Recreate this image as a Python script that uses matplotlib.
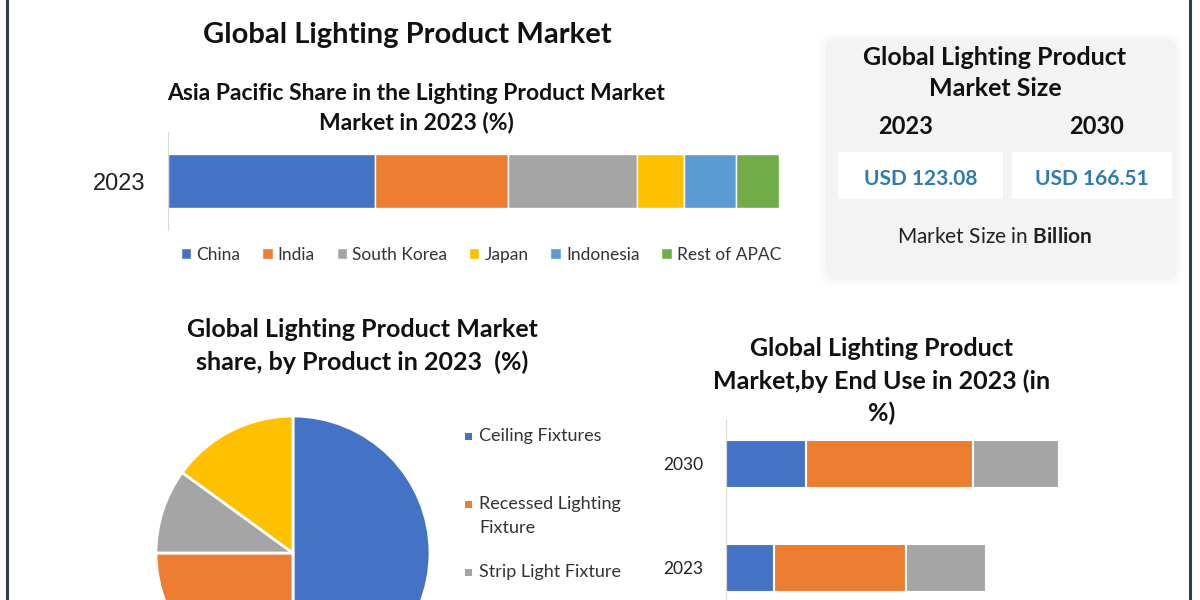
import matplotlib
matplotlib.use("Agg")
import matplotlib.pyplot as plt
import matplotlib.patches as mpatches

plt.rcParams["font.family"] = ["Lato", "DejaVu Sans"]
plt.rcParams["mathtext.fontset"] = "custom"
plt.rcParams["mathtext.rm"] = "Lato"
plt.rcParams["mathtext.bf"] = "Lato:bold"

# ---- data ----
apac_regions = ["China", "India", "South Korea", "Japan", "Indonesia", "Rest of APAC"]
apac_share = [33.9, 21.8, 21.1, 7.7, 8.5, 7.0]
apac_year = "2023"

products = ["Ceiling Fixtures", "Recessed Lighting\nFixture", "Strip Light Fixture", "Others"]
product_share = [50, 25, 10, 15]

end_use_years = ["2023", "2030"]
end_use_names = ["Residential", "Commercial", "Industrial"]
end_use_2023 = [14.5, 39.5, 24.0]
end_use_2030 = [24.0, 50.0, 26.0]

size_years = ["2023", "2030"]
size_values = ["USD 123.08", "USD 166.51"]

C = ["#4472C4", "#ED7D31", "#A5A5A5", "#FFC000", "#5B9BD5", "#70AD47"]
W, H = 1200, 600

def fx(x): return x / W
def fy(y): return 1 - y / H

fig = plt.figure(figsize=(12, 6), dpi=100)
fig.patch.set_facecolor("white")

# pixel-space overlay for decorations
bg = fig.add_axes([0, 0, 1, 1], zorder=-1)
bg.set_xlim(0, W); bg.set_ylim(H, 0); bg.axis("off")
bg.plot([7, 7], [0, H], color="#2d3e4e", lw=2.2)
bg.plot([1190, 1190], [0, H], color="#2d3e4e", lw=2.2)

# ---- main title ----
fig.text(fx(407), fy(35), "Global Lighting Product Market", ha="center", va="center",
         fontsize=21, fontweight="bold", color="#111111")

# ---- APAC stacked bar ----
fig.text(fx(416), fy(108), "Asia Pacific Share in the Lighting Product Market\nMarket in 2023 (%)",
         ha="center", va="center", fontsize=16.5, fontweight="bold", linespacing=1.4, color="#111111")
ax1 = fig.add_axes([fx(168), fy(230), fx(779) - fx(168), fy(132) - fy(230)])
left = 0
for name, val, col in zip(apac_regions, apac_share, C):
    ax1.barh(apac_year, val, left=left, color=col, edgecolor="white", lw=1, height=0.55, label=name)
    left += val
ax1.set_xlim(0, sum(apac_share))
ax1.set_ylim(-0.5, 0.5)
for s in ["top", "right", "bottom"]:
    ax1.spines[s].set_visible(False)
ax1.spines["left"].set_color("#d9d9d9")
ax1.set_xticks([])
ax1.tick_params(axis="y", length=0, pad=16)
for t in ax1.get_yticklabels():
    t.set_fontfamily("Liberation Sans"); t.set_fontsize(17); t.set_color("#222222")
leg1 = fig.legend(*ax1.get_legend_handles_labels(), loc="center", bbox_to_anchor=(fx(481), fy(255)),
                  ncol=6, frameon=False, fontsize=12.5, handlelength=0.6, handleheight=0.6,
                  handletextpad=0.3, columnspacing=1.25)
for t in leg1.get_texts():
    t.set_color("#333333")

# ---- market size box ----
for i, a in enumerate([0.05, 0.05, 0.06]):
    bg.add_patch(mpatches.FancyBboxPatch((825 - 3 * i, 38 - 2 * i), 352 + 6 * i, 242 + 5 * i,
                 boxstyle="round,pad=0,rounding_size=14", facecolor="#cfcfcf", edgecolor="none", alpha=a))
bg.add_patch(mpatches.FancyBboxPatch((825, 38), 352, 242, boxstyle="round,pad=0,rounding_size=14",
             facecolor="#f3f3f3", edgecolor="none"))
bg.text(995, 73, "Global Lighting Product\nMarket Size", ha="center", va="center", fontsize=18,
        fontweight="bold", linespacing=1.45, color="#111111")
for i, (yr, val) in enumerate(zip(size_years, size_values)):
    cx = [906, 1097][i]
    bg.text(cx, 127, yr, ha="center", va="center", fontsize=17, fontweight="bold", color="#111111")
    x0 = [838, 1012][i]
    bg.add_patch(mpatches.Rectangle((x0, 152), [165, 160][i], 47, facecolor="white", edgecolor="none"))
    bg.text(x0 + [165, 160][i] / 2, 179, val, ha="center", va="center", fontsize=15,
            fontweight="bold", color="#2e7bb0")
bg.text(995, 237, "Market Size in $\\mathbf{Billion}$", ha="center", va="center", fontsize=15, color="#222222")

# ---- product pie ----
fig.text(fx(362), fy(346), "Global Lighting Product Market\nshare, by Product in 2023  (%)",
         ha="center", va="center", fontsize=18, fontweight="bold", linespacing=1.45, color="#111111")
r = 137
ax2 = fig.add_axes([fx(293 - r), fy(553 + r), 2 * r / W, 2 * r / H])
ax2.pie(product_share, colors=C[:4], startangle=90, counterclock=False,
        wedgeprops=dict(edgecolor="white", linewidth=2))
ax2.set_xlim(-1, 1); ax2.set_ylim(-1, 1)
for i, (lab, col) in enumerate(zip(products, C)):
    y = 436 + i * 68
    if y > H - 10:
        continue  # entry falls below the visible canvas
    bg.add_patch(mpatches.Rectangle((465, y - 3.5), 7, 7, facecolor=col, edgecolor="none"))
    bg.text(479, y - 8, lab, ha="left", va="top", fontsize=13, color="#333333", linespacing=1.6)

# ---- end use stacked bars ----
fig.text(fx(882), fy(381), "Global Lighting Product\nMarket,by End Use in 2023 (in\n%)",
         ha="center", va="center", fontsize=18, fontweight="bold", linespacing=1.45, color="#111111")
ax3 = fig.add_axes([fx(726), 0, fx(1176) - fx(726), fy(420)])
ev = [end_use_2023, end_use_2030]
for j, name in enumerate(end_use_names):
    vals = [ev[0][j], ev[1][j]]
    lefts = [sum(ev[0][:j]), sum(ev[1][:j])]
    ax3.barh(end_use_years, vals, left=lefts, color=C[j], edgecolor="white", lw=1.5, height=0.47, label=name)
ax3.set_xlim(0, 135)
ax3.set_ylim(-0.308, 1.423)
for s in ["top", "right", "bottom"]:
    ax3.spines[s].set_visible(False)
ax3.spines["left"].set_color("#d9d9d9")
ax3.set_xticks([])
ax3.tick_params(axis="y", length=0, pad=16, labelsize=12.5, labelcolor="#222222")

fig.savefig("out.png", dpi=100)
